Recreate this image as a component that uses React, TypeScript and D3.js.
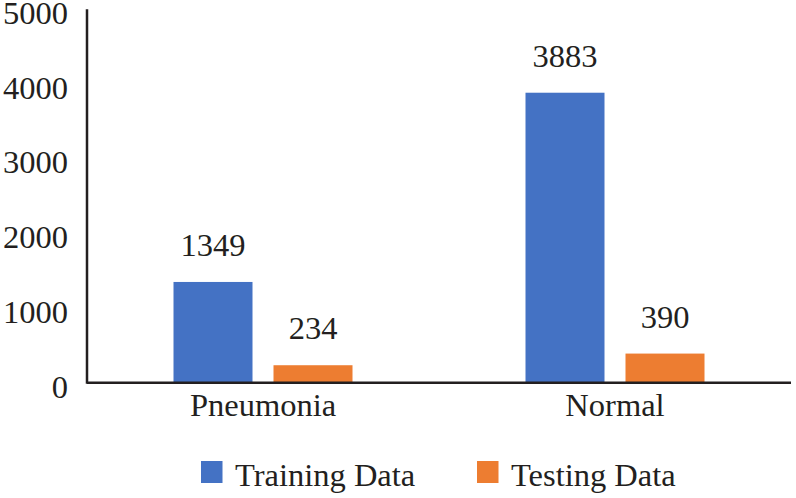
import React from "react";
import * as d3 from "d3";

const categories = ["Pneumonia", "Normal"];
const seriesNames = ["Training Data", "Testing Data"];
const trainingValues = [1349, 3883];
const testingValues = [234, 390];
const yTicks = [0, 1000, 2000, 3000, 4000, 5000];
const colors = ["#4472C4", "#ED7D31"];

export default function App() {
  const W = 796, H = 498;
  const left = 87, right = 791, top = 9.3, bottom = 382.7;
  const font = "Liberation Serif, Times New Roman, serif";
  const textColor = "#231F20";
  const fs = 32.5;

  const x0 = d3.scaleBand<string>().domain(categories).range([left, right]).paddingInner(0).paddingOuter(0);
  const y = d3.scaleLinear().domain([0, 5000]).range([bottom, top]);
  const bw = x0.bandwidth();
  const barW = 79, gap = 21;
  const x1 = d3.scaleOrdinal<string, number>().domain(seriesNames).range([
    bw / 2 - gap / 2 - barW,
    bw / 2 + gap / 2,
  ]);
  const series = [trainingValues, testingValues];

  return (
    <svg width={W} height={H} style={{ position: "absolute", left: 0, top: 0, background: "#fff" }}>
      {yTicks.map((t) => (
        <text key={t} x={68} y={y(t) + 14.8} textAnchor="end" fontFamily={font} fontSize={fs} fill={textColor}>
          {t}
        </text>
      ))}
      {categories.map((c, ci) =>
        seriesNames.map((s, si) => {
          const v = series[si][ci];
          const bx = (x0(c) as number) + x1(s);
          return (
            <g key={c + s}>
              <rect x={bx} y={y(v)} width={barW} height={bottom - y(v)} fill={colors[si]} />
              <text x={bx + barW / 2} y={y(v) - 26} textAnchor="middle" fontFamily={font} fontSize={fs} fill={textColor}>
                {v}
              </text>
            </g>
          );
        })
      )}
      <line x1={left} x2={left} y1={top} y2={bottom + 1} stroke={textColor} strokeWidth={2.5} />
      <line x1={left} x2={right} y1={bottom} y2={bottom} stroke={textColor} strokeWidth={2.5} />
      {categories.map((c) => (
        <text key={c} x={(x0(c) as number) + bw / 2} y={416} textAnchor="middle" fontFamily={font} fontSize={fs} fill={textColor}>
          {c}
        </text>
      ))}
      {seriesNames.map((s, i) => {
        const lx = [201, 477][i];
        return (
          <g key={s}>
            <rect x={lx} y={461} width={21.5} height={22} fill={colors[i]} />
            <text x={lx + 34} y={486} fontFamily={font} fontSize={fs} fill={textColor}>
              {s}
            </text>
          </g>
        );
      })}
    </svg>
  );
}
